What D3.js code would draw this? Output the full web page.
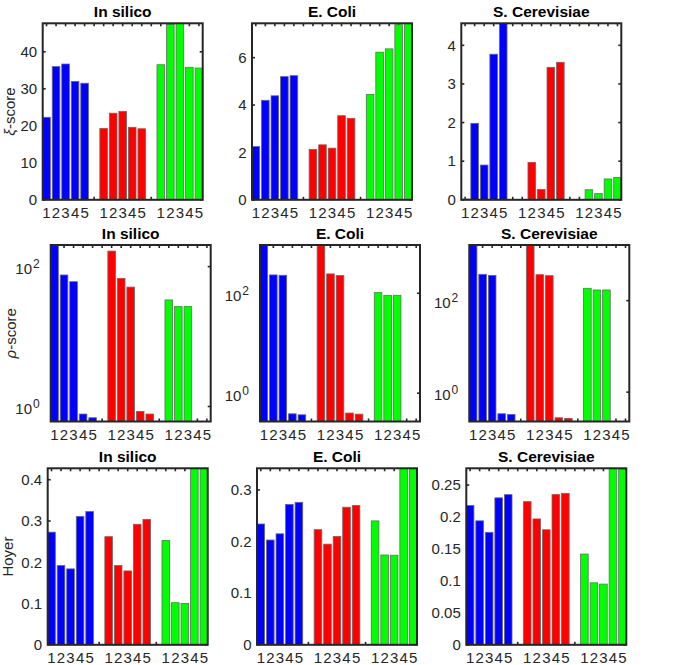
<!DOCTYPE html>
<html><head><meta charset="utf-8">
<script src="https://cdn.jsdelivr.net/npm/d3@7"></script>
<style>
body{margin:0;background:#fff;}
svg{display:block;font-family:"Liberation Sans",Arial,Helvetica,sans-serif;}
</style></head>
<body>
<svg id="chart" width="700" height="665"></svg>
<script>
// ---- data ----
const titles = ["In silico", "E. Coli", "S. Cerevisiae"];
const groupColors = ["#0000ff", "#ff0000", "#00ff00"];
const variantLabels = ["1", "2", "3", "4", "5"];

// xi-score (blue, red, green groups; variants 1..5)
const xiSilico = [[22.3, 36.0, 36.7, 32.0, 31.5], [19.3, 23.4, 23.9, 19.6, 19.2], [36.5, 47.4, 47.7, 35.8, 35.6]];
const xiEColi = [[2.25, 4.20, 4.39, 5.20, 5.24], [2.13, 2.32, 2.18, 3.55, 3.44], [4.45, 6.23, 6.37, 7.39, 7.45]];
const xiYeast = [[0.02, 1.98, 0.90, 3.77, 4.57], [0.01, 0.97, 0.27, 3.43, 3.56], [0.01, 0.26, 0.16, 0.54, 0.58]];
// rho-score
const rhoSilico = [[204, 76, 61, 0.78, 0.69], [167, 68, 51, 0.85, 0.78], [33.4, 26.8, 26.8, 0.61, 0.61]];
const rhoEColi = [[925, 233, 229, 0.386, 0.369], [890, 244, 226, 0.40, 0.38], [103, 91, 91, 0.271, 0.271]];
const rhoYeast = [[1645, 376, 357, 0.337, 0.326], [1590, 369, 351, 0.275, 0.266], [186, 171, 171, 0.228, 0.228]];
// Hoyer
const hoyerSilico = [[0.273, 0.192, 0.184, 0.311, 0.323], [0.262, 0.192, 0.179, 0.292, 0.304], [0.2525, 0.102, 0.100, 0.4275, 0.4277]];
const hoyerEColi = [[0.234, 0.203, 0.215, 0.272, 0.276], [0.223, 0.195, 0.210, 0.2665, 0.270], [0.240, 0.174, 0.1735, 0.3418, 0.3419]];
const hoyerYeast = [[0.218, 0.194, 0.176, 0.230, 0.235], [0.224, 0.197, 0.180, 0.235, 0.237], [0.142, 0.097, 0.095, 0.2762, 0.275]];

const xiTicks = [[0, 10, 20, 30, 40], [0, 2, 4, 6], [0, 1, 2, 3, 4]];
const rhoTicks = [1, 100];
const rhoTickExp = ["0", "2"];
const hoyerTicks = [[0, 0.1, 0.2, 0.3, 0.4], [0, 0.1, 0.2, 0.3], [0, 0.05, 0.1, 0.15, 0.2, 0.25]];
const logMins = [0.61, 0.271, 0.228];

// ---- layout ----
const rowLeft = [42.7, 50.7, 47.7];
const rowTop = [23.3, 245, 468.3];
const colStep = 209.3, W = 160, H = 176.5;
const ink = "#262626";
const FS = 15;

const svg = d3.select("#chart");

const rows = [
  {data: [xiSilico, xiEColi, xiYeast], ticks: xiTicks, log: false},
  {data: [rhoSilico, rhoEColi, rhoYeast], ticks: [rhoTicks, rhoTicks, rhoTicks], log: true},
  {data: [hoyerSilico, hoyerEColi, hoyerYeast], ticks: hoyerTicks, log: false}
];

// positions 1..17 : group g variant v at g*6 + v + 1 ; gaps at 6 and 12
const positions = d3.range(1, 18);

rows.forEach((row, r) => {
  row.data.forEach((panel, c) => {
    const x0 = rowLeft[r] + c * colStep, y0 = rowTop[r];
    const g = svg.append("g").attr("transform", `translate(${x0},${y0})`);
    const x = d3.scaleLinear().domain([0.6, 17.4]).range([0, W]);
    const maxV = d3.max(panel.flat());
    const y = row.log
      ? d3.scaleLog().domain([logMins[c], maxV]).range([H, 0])
      : d3.scaleLinear().domain([0, maxV]).range([H, 0]);
    const base = row.log ? logMins[c] : 0;
    const bw = x(1.4) - x(0.6);

    const bars = [];
    panel.forEach((vals, gi) => vals.forEach((v, vi) => bars.push({pos: gi * 6 + vi + 1, v, gi})));

    // ticks (inside), x at top & bottom
    const tk = g.append("g").attr("stroke", ink).attr("stroke-width", 1.6);
    positions.forEach(p => {
      tk.append("line").attr("x1", x(p)).attr("x2", x(p)).attr("y1", 0).attr("y2", 3);
      tk.append("line").attr("x1", x(p)).attr("x2", x(p)).attr("y1", H).attr("y2", H - 3);
    });
    row.ticks[c].forEach(t => {
      tk.append("line").attr("x1", 0).attr("x2", 3).attr("y1", y(t)).attr("y2", y(t));
      tk.append("line").attr("x1", W).attr("x2", W - 3).attr("y1", y(t)).attr("y2", y(t));
    });

    // bars
    g.append("g").selectAll("rect").data(bars).join("rect")
      .attr("x", d => x(d.pos) - bw / 2)
      .attr("width", bw)
      .attr("y", d => y(Math.max(d.v, base)))
      .attr("height", d => Math.max(0, y(base) - y(Math.max(d.v, base))))
      .attr("fill", d => groupColors[d.gi])
      .attr("stroke", "#6a6a6a").attr("stroke-width", 0.8);

    // box
    g.append("rect").attr("x", 0).attr("y", 0).attr("width", W).attr("height", H)
      .attr("fill", "none").attr("stroke", ink).attr("stroke-width", 2);

    // x tick labels
    g.append("g").selectAll("text").data(bars).join("text")
      .attr("x", d => x(d.pos)).attr("y", H + 18.5)
      .attr("text-anchor", "middle").attr("font-size", FS).attr("fill", ink)
      .text(d => variantLabels[d.pos - d.gi * 6 - 1]);

    // y tick labels
    if (row.log) {
      row.ticks[c].forEach((t, i) => {
        const tx = g.append("text").attr("x", -11).attr("y", y(t) + 7.5)
          .attr("text-anchor", "end").attr("font-size", FS).attr("fill", ink);
        tx.append("tspan").text("10");
        tx.append("tspan").attr("dx", 1).attr("dy", -6).attr("font-size", 12).text(rhoTickExp[i]);
      });
    } else {
      row.ticks[c].forEach(t => {
        g.append("text").attr("x", -5.5).attr("y", y(t) + 5.3)
          .attr("text-anchor", "end").attr("font-size", FS).attr("fill", ink)
          .text(String(t));
      });
    }

    // title
    g.append("text").attr("x", W / 2).attr("y", -6).attr("text-anchor", "middle")
      .attr("font-size", 15.5).attr("font-weight", "bold").attr("fill", "#000")
      .text(titles[c]);
  });
});

// y-axis labels
function ylabel(r, bx, parts) {
  const cy = rowTop[r] + H / 2;
  const t = svg.append("text").attr("transform", `translate(${bx},${cy}) rotate(-90)`)
    .attr("text-anchor", "middle").attr("font-size", FS).attr("fill", ink);
  parts.forEach(p => t.append("tspan").attr("font-style", p[1] ? "italic" : "normal").text(p[0]));
}
ylabel(0, 15, [["ξ", true], ["-score", false]]);
ylabel(1, 16, [["ρ", true], ["-score", false]]);
ylabel(2, 13, [["Hoyer", false]]);
</script>
</body></html>
